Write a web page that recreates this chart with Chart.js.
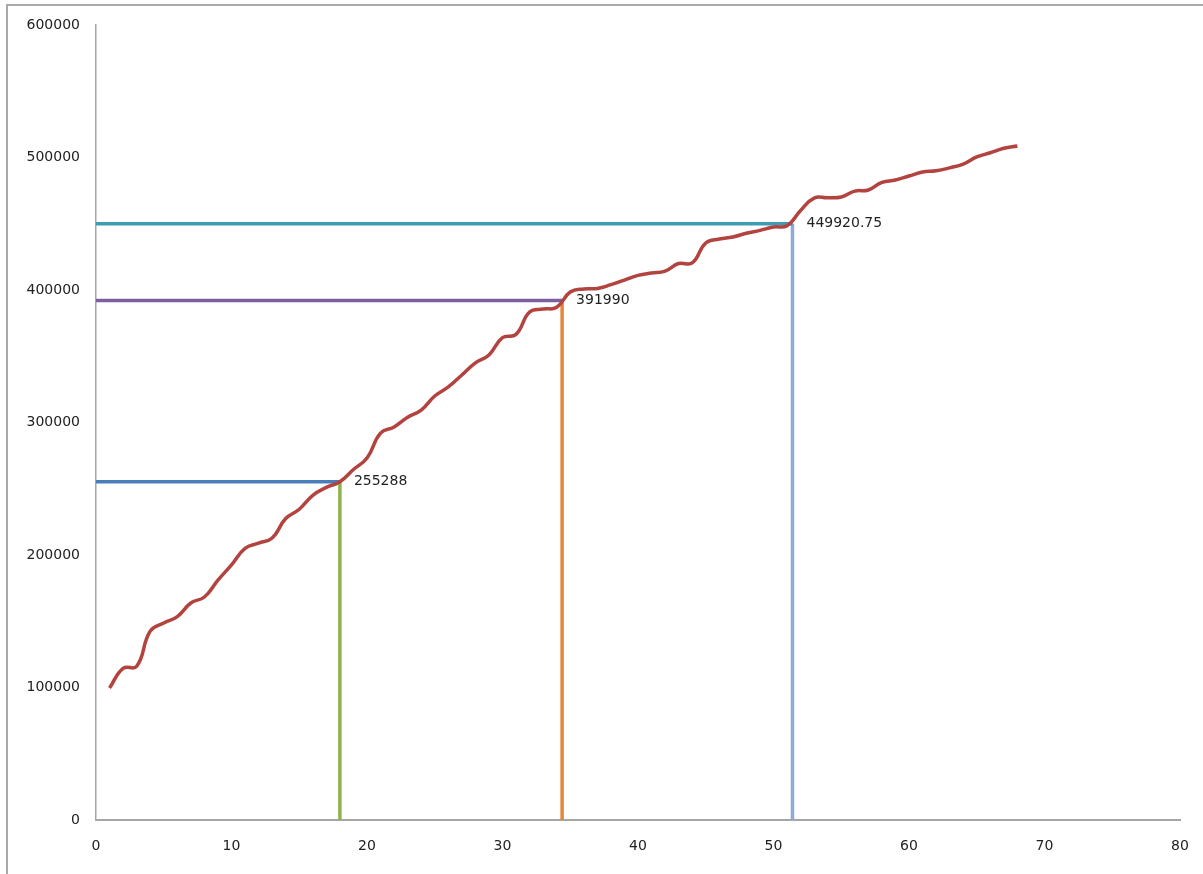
<!DOCTYPE html>
<html>
<head>
<meta charset="utf-8">
<title>Cumulative total</title>
<script src="https://cdn.jsdelivr.net/npm/chart.js@4/dist/chart.umd.min.js"></script>
<style>
  html, body { margin: 0; padding: 0; background: #fff; }
  #frame {
    position: absolute; left: 6px; top: 4px; width: 1197px; height: 870px;
    border-left: 2px solid #a9a9a9; border-top: 2px solid #a9a9a9;
  }
  #myChart { position: absolute; left: 0; top: 0; }
</style>
</head>
<body>
<div id="frame"></div>
<canvas id="myChart" width="1203" height="874"></canvas>
<script>
// x positions of the running total
const steps = [1, 2, 3, 4, 5, 6, 7, 8, 9, 10, 11, 12, 13, 14, 15, 16, 17, 18, 19, 20,
  21, 22, 23, 24, 25, 26, 27, 28, 29, 30, 31, 32, 33, 34, 35, 36, 37, 38, 39, 40,
  41, 42, 43, 44, 45, 46, 47, 48, 49, 50, 51, 52, 53, 54, 55, 56, 57, 58, 59, 60,
  61, 62, 63, 64, 65, 66, 67, 68];
// running total
const totals = [99600, 114500, 116000, 142500, 148700, 153500, 163800, 168300, 181000, 192500,
  205000, 209000, 212800, 227500, 234500, 245000, 251000, 255288, 264500, 273200,
  292000, 296600, 304000, 309400, 320000, 326800, 335800, 345000, 351000, 364000,
  366500, 383400, 385600, 387000, 398500, 400800, 401200, 404000, 407500, 411000,
  412800, 414300, 420000, 420400, 435500, 438500, 440000, 442800, 445000, 447500,
  448500, 460000, 469400, 469600, 470200, 474600, 475500, 481200, 483000, 486000,
  489000, 490000, 492200, 495000, 500400, 503600, 507000, 508700];

// marked points (x where the total crosses, and the value shown)
const markX = [18, 34.4, 51.4];
const markY = [255288, 391990, 449920.75];
const markText = ["255288", "391990", "449920.75"];

const xTicks = [0, 10, 20, 30, 40, 50, 60, 70, 80];
const yTicks = [0, 100000, 200000, 300000, 400000, 500000, 600000];

const hColors = ["#4a7ebb", "#7d5f9f", "#3f9ab4"];
const vColors = ["#8fb24c", "#e5873a", "#8eaad6"];

const datasets = [{
  data: steps.map((s, i) => ({ x: s, y: totals[i] })),
  borderColor: "#b2433f",
  borderWidth: 3.5,
  pointRadius: 0,
  tension: 0.45
}];
markX.forEach((mx, i) => {
  datasets.push({
    data: [{ x: xTicks[0], y: markY[i] }, { x: mx, y: markY[i] }],
    borderColor: hColors[i], borderWidth: 3.5, pointRadius: 0, tension: 0
  });
  datasets.push({
    data: [{ x: mx, y: yTicks[0] }, { x: mx, y: markY[i] }],
    borderColor: vColors[i], borderWidth: 3.5, pointRadius: 0, tension: 0
  });
});

// draws the value next to each marked point
const markLabels = {
  id: "markLabels",
  afterDatasetsDraw(chart) {
    const ctx = chart.ctx;
    const sx = chart.scales.x, sy = chart.scales.y;
    ctx.save();
    ctx.font = "14px 'DejaVu Sans'";
    ctx.fillStyle = "#1f1f1f";
    ctx.textBaseline = "middle";
    ctx.textAlign = "left";
    markX.forEach((mx, i) => {
      ctx.fillText(markText[i], sx.getPixelForValue(mx) + 14, sy.getPixelForValue(markY[i]));
    });
    ctx.restore();
  }
};

const tickFont = { family: "DejaVu Sans", size: 14 };

new Chart(document.getElementById("myChart").getContext("2d"), {
  type: "line",
  data: { datasets: datasets },
  options: {
    responsive: false,
    animation: false,
    layout: { padding: { left: 0, right: 23, top: 25, bottom: 0 } },
    plugins: { legend: { display: false }, tooltip: { enabled: false } },
    scales: {
      x: {
        type: "linear",
        min: xTicks[0],
        max: xTicks[xTicks.length - 1],
        afterBuildTicks: (axis) => { axis.ticks = xTicks.map(v => ({ value: v })); },
        afterFit: (axis) => { axis.height = 54; axis.paddingLeft = 0; axis.paddingRight = 0; },
        grid: { display: false, drawTicks: false },
        border: { color: "#a6a6a6", width: 2 },
        ticks: { font: tickFont, color: "#222", padding: 18, maxRotation: 0 }
      },
      y: {
        min: yTicks[0],
        max: yTicks[yTicks.length - 1],
        afterBuildTicks: (axis) => { axis.ticks = yTicks.map(v => ({ value: v })); },
        afterFit: (axis) => { axis.width = 96; axis.paddingTop = 0; axis.paddingBottom = 0; },
        grid: { display: false, drawTicks: false },
        border: { color: "#a6a6a6", width: 1.5 },
        ticks: { font: tickFont, color: "#222", padding: 16, callback: (v) => String(v) }
      }
    }
  },
  plugins: [markLabels]
});
</script>
</body>
</html>
